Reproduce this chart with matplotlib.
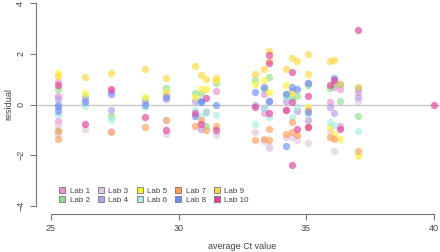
import matplotlib.pyplot as plt
from matplotlib.lines import Line2D

# Ct value columns (x positions of samples)
ct = {1: 25.27, 2: 26.33, 3: 27.34, 4: 28.67, 5: 29.49, 6: 30.63, 7: 30.86,
      8: 31.09, 9: 31.48, 10: 33.01, 11: 33.36, 12: 33.55, 13: 34.22,
      14: 34.45, 15: 34.65, 16: 35.08, 17: 35.94, 18: 36.09, 19: 36.33,
      20: 37.03, 21: 40.0}

labs = ['Lab 1', 'Lab 2', 'Lab 3', 'Lab 4', 'Lab 5',
        'Lab 6', 'Lab 7', 'Lab 8', 'Lab 9', 'Lab 10']
lab_colors = ['#EC8FCF', '#8EE08E', '#E3C6E3', '#B49CE6', '#FFF23A',
              '#A9EBE2', '#FF9F5A', '#6C90F2', '#FFD83A', '#E0409A']

# (column, residual) per lab
lab1 = [(1, 0.9), (1, 0.35), (1, -0.65), (3, 0.55), (5, 0.4), (9, 0.55),
        (11, 0.4), (11, -0.35), (13, -0.2), (16, 0.85), (17, 0.1),
        (18, 0.7), (19, 0.6), (19, -0.85), (20, 0.5)]
lab2 = [(1, 0.63), (1, -1.0), (2, 0.35), (3, -0.45), (4, 0.2), (5, 0.65),
        (6, 0.45), (7, 0.45), (8, -0.85), (9, 0.85), (10, 0.95), (11, 0.6),
        (12, 1.1), (13, 0.4), (14, 0.25), (15, 0.35), (16, 0.75), (17, 0.65),
        (18, 0.8), (19, 0.15), (20, -0.45)]
lab3 = [(1, -0.8), (1, -1.2), (2, -0.95), (3, -1.05), (5, -1.15), (9, -1.2),
        (10, -1.1), (11, -1.45), (12, -1.65), (12, -1.7), (13, -1.3),
        (14, -1.3), (15, -1.4), (16, -1.5), (17, -1.05), (18, -1.85),
        (19, -0.9), (20, 0.15)]
lab4 = [(1, 0.2), (1, -0.1), (2, 0.2), (3, -0.2), (4, 0.1), (5, 0.2),
        (6, 0.15), (7, -0.95), (8, -0.3), (10, 0.0), (11, -0.15), (12, 0.15),
        (13, 0.15), (14, 0.55), (15, -0.25), (16, -0.6), (17, -0.1),
        (18, -0.35), (20, 0.3)]
lab5 = [(1, 1.25), (2, 0.45), (4, 0.3), (5, 0.5), (6, 0.3), (7, 0.6),
        (8, 0.6), (9, 0.95), (10, 0.8), (11, 0.95), (12, 0.5), (13, 0.75),
        (14, 0.45), (16, -0.1), (17, -0.9), (18, -1.15), (19, -1.35),
        (20, -2.05)]
lab6 = [(1, -0.4), (2, -0.05), (3, -0.6), (4, -0.1), (5, -0.6), (6, -0.2),
        (7, -0.45), (8, -0.25), (9, -0.4), (10, -0.75), (11, -0.15),
        (12, -0.5), (13, 0.3), (14, -0.5), (15, -0.1), (16, -0.35),
        (17, -0.7), (18, -0.8), (20, -1.05)]
lab7 = [(1, -1.05), (1, -1.35), (3, -1.1), (4, -0.9), (5, -0.6), (6, -0.85),
        (7, -0.6), (8, -1.0), (9, -0.85), (10, -1.4), (11, -1.35),
        (12, -0.95), (12, -1.4), (13, -1.15), (14, -0.7), (14, -1.1),
        (15, -1.2), (16, -0.2), (16, -0.9), (17, -1.3), (18, -1.35),
        (20, -1.85)]
lab8 = [(1, 0.0), (1, -0.25), (2, 0.1), (3, 0.4), (4, 0.0), (5, 0.3),
        (6, -0.45), (7, 0.15), (7, 0.1), (9, 0.0), (10, 0.5), (11, 0.7),
        (12, 0.15), (13, 0.4), (13, -1.65), (14, 0.7), (15, 0.6), (16, 0.85),
        (16, -0.3), (18, 1.05), (19, 0.8), (20, 0.65)]
lab9 = [(1, 1.14), (2, 1.1), (3, 1.25), (4, 1.4), (5, 1.05), (6, 1.5),
        (7, 1.15), (8, 1.0), (9, 1.05), (10, 1.2), (11, 1.4), (12, 2.1),
        (12, 1.7), (13, 1.4), (14, 1.85), (15, 1.7), (16, 2.0), (16, 1.2),
        (17, 1.7), (18, 1.75), (19, 0.8), (20, 0.7)]
lab10 = [(1, 0.78), (2, -0.75), (3, 0.6), (4, -0.5), (5, -1.0), (6, -0.35),
         (7, -0.75), (8, 0.27), (9, -1.0), (10, -0.1), (12, 1.95), (12, 1.65),
         (12, -0.35), (13, -0.2), (14, 1.3), (14, 0.1), (14, -2.4),
         (15, -0.95), (16, 0.35), (16, -0.9), (17, 0.75), (18, 0.98),
         (19, -0.98), (20, 2.95), (21, 0.0)]

lab_points = [lab1, lab2, lab3, lab4, lab5, lab6, lab7, lab8, lab9, lab10]

plt.rcParams['font.family'] = ['Liberation Sans', 'DejaVu Sans']
txt = '#444444'

fig = plt.figure(figsize=(4.4, 2.52), dpi=100)
ax = fig.add_axes([35.7 / 440, 38 / 252, 413.3 / 440, 219 / 252])

ax.axhline(0, color='#c8c8c8', lw=1.0, zorder=1)
for pts, col in zip(lab_points, lab_colors):
    xs = [ct[c] for c, _ in pts]
    ys = [v for _, v in pts]
    ax.scatter(xs, ys, s=28, color=col, alpha=0.65, linewidths=0, zorder=2)

ax.set_xlim(24.4, 40.6)
ax.set_ylim(-4.32, 4.32)
ax.set_xticks([25, 30, 35, 40])
ax.set_yticks([-4, -2, 0, 2, 4])
ax.spines['top'].set_visible(False)
ax.spines['right'].set_visible(False)
ax.spines['bottom'].set_bounds(25, 40)
ax.spines['left'].set_bounds(-4, 4)
for s in ('bottom', 'left'):
    ax.spines[s].set_color('#777777')
    ax.spines[s].set_linewidth(0.8)
ax.tick_params(colors='#777777', labelcolor=txt, labelsize=6.5, length=4,
               width=0.8)
for lbl in ax.get_yticklabels():
    lbl.set_rotation(90)
    lbl.set_va('center')
ax.set_xlabel('average Ct value', fontsize=6.5, color=txt, labelpad=6)
ax.set_ylabel('residual', fontsize=6.5, color=txt, labelpad=2)

handles = [Line2D([], [], ls='none', marker='s', markersize=4.5,
                  markerfacecolor=c, markeredgecolor='#777777',
                  markeredgewidth=0.6) for c in lab_colors]
fig.legend(handles, labs, ncol=5, frameon=False, fontsize=5.8,
           loc='upper left', bbox_to_anchor=(52 / 440, 1 - 180 / 252),
           handlelength=0.8, handletextpad=0.5, columnspacing=1.0,
           labelspacing=0.2, labelcolor=txt)

fig.savefig('out.png', dpi=100)
